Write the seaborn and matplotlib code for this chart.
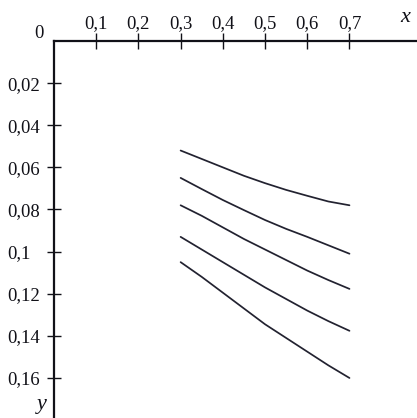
import numpy as np
import pandas as pd
import matplotlib
matplotlib.use("Agg")
import matplotlib.pyplot as plt
import seaborn as sns

x_vals = [0.30, 0.35, 0.40, 0.45, 0.50, 0.55, 0.60, 0.65, 0.70]
curve1 = [0.052, 0.056, 0.060, 0.064, 0.0675, 0.0707, 0.0735, 0.0762, 0.078]
curve2 = [0.065, 0.0703, 0.0755, 0.0803, 0.085, 0.0892, 0.093, 0.097, 0.101]
curve3 = [0.078, 0.083, 0.0885, 0.094, 0.099, 0.104, 0.109, 0.1135, 0.1177]
curve4 = [0.093, 0.099, 0.105, 0.111, 0.117, 0.1225, 0.128, 0.133, 0.1376]
curve5 = [0.105, 0.112, 0.1195, 0.127, 0.1345, 0.141, 0.1475, 0.154, 0.160]

x_ticks = [0.1, 0.2, 0.3, 0.4, 0.5, 0.6, 0.7]
x_tick_labels = ["0,1", "0,2", "0,3", "0,4", "0,5", "0,6", "0,7"]
y_ticks = [0.02, 0.04, 0.06, 0.08, 0.10, 0.12, 0.14, 0.16]
y_tick_labels = ["0,02", "0,04", "0,06", "0,08", "0,1", "0,12", "0,14", "0,16"]

curves = {"c1": curve1, "c2": curve2, "c3": curve3, "c4": curve4, "c5": curve5}
rows = []
for name, ys in curves.items():
    for xv, yv in zip(x_vals, ys):
        rows.append({"x": xv, "y": yv, "curve": name})
df = pd.DataFrame(rows)

sns.set_theme(style="white")
plt.rcParams["font.family"] = ["Liberation Serif", "DejaVu Serif"]

W, H = 417, 418
fig = plt.figure(figsize=(W / 100, H / 100), dpi=100)
ax = fig.add_axes([54 / W, 0, 1 - 54 / W, 1 - 41 / H])

line_color = "#222230"
sns.lineplot(data=df, x="x", y="y", hue="curve", palette=[line_color] * 5,
             estimator=None, sort=True, legend=False, linewidth=1.25, ax=ax)

ax.set_xlim(0, 0.86)
ax.set_ylim(0.179, 0)

for side in ["right", "bottom"]:
    ax.spines[side].set_visible(False)
for side in ["top", "left"]:
    ax.spines[side].set_visible(True)
    ax.spines[side].set_linewidth(1.6)
    ax.spines[side].set_color("#111118")

ax.xaxis.tick_top()
ax.set_xticks(x_ticks)
ax.set_xticklabels(x_tick_labels)
ax.set_yticks(y_ticks)
ax.set_yticklabels(y_tick_labels)
ax.tick_params(axis="x", top=True, bottom=False, labeltop=True, labelbottom=False,
               direction="inout", length=11, width=1.0, pad=1.0, labelsize=13.5,
               colors="#111118")
ax.tick_params(axis="y", left=True, right=False, direction="inout", length=10,
               width=1.0, pad=29, labelsize=13.5, colors="#111118")
for lbl in ax.get_yticklabels():
    lbl.set_horizontalalignment("left")

ax.set_xlabel("")
ax.set_ylabel("")
ax.grid(False)

fig.text(39 / W, 1 - 34 / H, "0", ha="center", va="center", fontsize=13.5,
         color="#111118")
fig.text(405 / W, 1 - 18 / H, "x", ha="center", va="center", fontsize=16,
         style="italic", color="#111118")
fig.text(42 / W, 1 - 405 / H, "y", ha="center", va="center", fontsize=16,
         style="italic", color="#111118")

fig.savefig("out.png", dpi=100, facecolor="white")
